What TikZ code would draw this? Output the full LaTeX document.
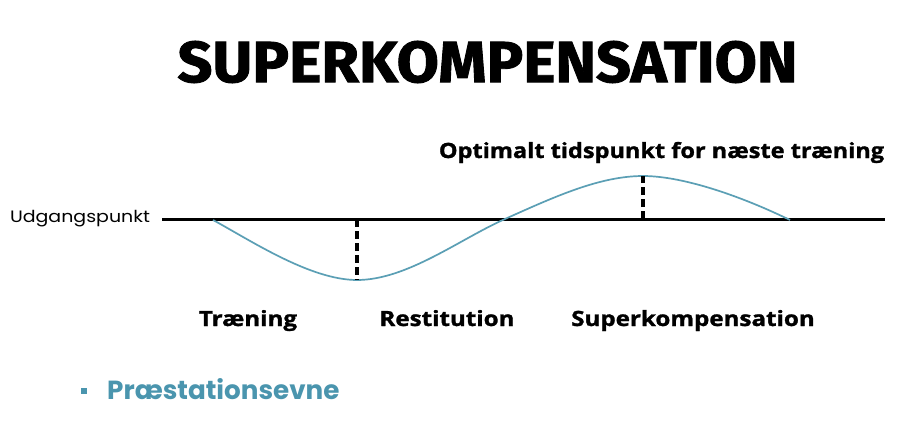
\documentclass[tikz,border=0pt]{standalone}
\usepackage{fontspec}
\setmainfont{Open Sans}[BoldFeatures={FakeBold=1.2}]
\newfontfamily\titlefont{Fira Sans}[BoldFeatures={FakeBold=1.5}]
\newfontfamily\popfont{Poppins}
\definecolor{curve}{HTML}{5B9FB5}
\definecolor{teal}{HTML}{4A95AE}
\begin{document}
\begin{tikzpicture}[x=1pt,y=-1pt,
  lbl/.style={font=\fontsize{21}{24}\selectfont\bfseries, inner sep=0pt, xscale=1.15, anchor=base},
  dashline/.style={line width=3.4pt, dash pattern=on 8pt off 4pt},
  ]
\useasboundingbox[fill=white] (0,0) rectangle (900,431);
\node[font=\titlefont\fontsize{58}{60}\selectfont\bfseries, inner sep=0pt, xscale=1.055] (title) at (487.5,62) {SUPERKOMPENSATION};
\node[font=\bfseries\fontsize{21}{24}\selectfont, inner sep=0pt, xscale=1.12, anchor=base] (opt) at (661.5,158) {Optimalt tidspunkt for næste træning};
\node[font=\popfont\fontsize{16.5}{18}\selectfont, inner sep=0pt, xscale=1.15] (udg) at (80,219) {Udgangspunkt};
\coordinate (b0) at (162,219);
\coordinate (b1) at (885,219);
\draw[line width=3pt] (b0) -- (b1);
\coordinate (c0) at (213,220);
\coordinate (cmin) at (357,280);
\coordinate (cx) at (505,219);
\coordinate (cmax) at (643,176);
\coordinate (c1) at (790,220);
\draw[curve, line width=1.7pt] (c0) .. controls (250,240) and (310,280) .. (cmin)
  .. controls (407,280) and (460,239) .. (cx)
  .. controls (555,196.5) and (600,176) .. (cmax)
  .. controls (685,176) and (745,198) .. (c1);
\coordinate (d0) at (357,219);
\coordinate (d1) at (643,219);
\draw[dashline] (d0) -- (cmin);
\draw[dashline] (d1) -- (cmax);
\node[lbl] (tr) at (248,326) {Træning};
\node[lbl] (re) at (447,326) {Restitution};
\node[lbl] (su) at (693,326) {Superkompensation};
\node[fill=teal, minimum size=6.5pt, inner sep=0pt] (bul) at (84,391) {};
\node[font=\popfont\fontsize{26.2}{28}\selectfont\bfseries, text=teal, inner sep=0pt, anchor=base west] (pr) at (107,399) {Præstationsevne};
\end{tikzpicture}
\end{document}
